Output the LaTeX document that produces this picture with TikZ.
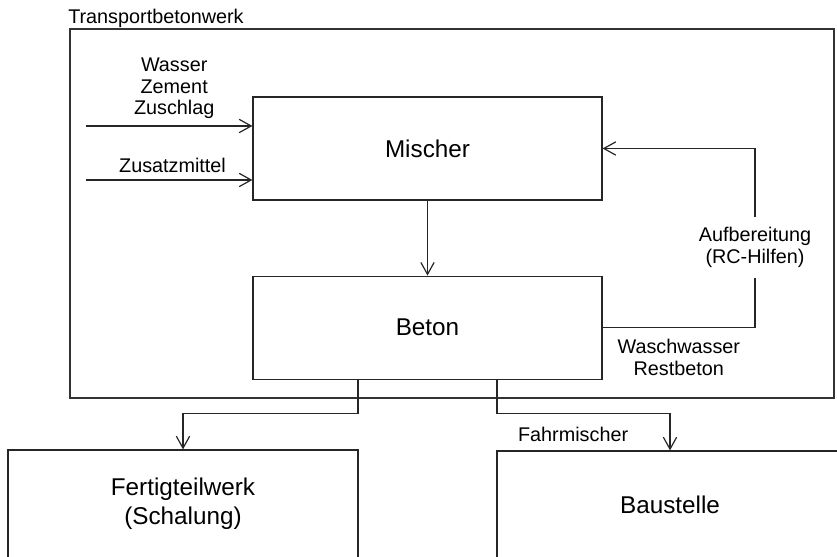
\documentclass[tikz,border=0pt]{standalone}
\usepackage{fontspec}
\setmainfont{Liberation Sans}
\usetikzlibrary{arrows.meta, positioning}
\tikzset{
  box/.style={rectangle, draw=black!85, line width=0.9pt, minimum width=261.75pt, minimum height=77.25pt, align=center, inner sep=0pt, font=\fontsize{18.2}{21.75}\selectfont},
  frame/.style={rectangle, draw=black!80, line width=2.2pt, minimum width=573pt, minimum height=276.75pt},
  lbl/.style={align=center, inner sep=0pt, font=\fontsize{14.85}{16.1}\selectfont},
  arrow/.style={-{Straight Barb[length=9pt, width=10pt]}, draw=black!85, line width=0.9pt},
  conn/.style={draw=black!85, line width=0.9pt}
}
\begin{document}
\begin{tikzpicture}[x=0.75pt, y=0.75pt]
  \useasboundingbox (0,0) rectangle (837,556);
  \node[frame] (werk) at (452,342.5) {};
  \node[lbl, anchor=base west] (werklbl) at (68,532) {Transportbetonwerk};
  \node[box] (mischer) at (427.5,407.5) {Mischer};
  \node[box, below=56.25pt of mischer] (beton) {Beton};
  \node[box, minimum width=262.5pt, minimum height=81pt] (fertig) at (183,52) {Fertigteilwerk\\(Schalung)};
  \node[box, minimum width=259.5pt, minimum height=81pt] (baustelle) at (670,51) {Baustelle};
  \coordinate (wzz) at (86,430);
  \coordinate (zus) at (86,376);
  \node[lbl, inner sep=7.5pt] (aufb) at (755,308.5) {Aufbereitung\\(RC-Hilfen)};
  \draw[arrow] (wzz) -- node[lbl, above=5pt, pos=0.53] {Wasser\\Zement\\Zuschlag} (wzz -| mischer.west);
  \draw[arrow] (zus) -- node[lbl, above=5pt, pos=0.52] {Zusatzmittel} (zus -| mischer.west);
  \draw[arrow] (mischer) -- (beton);
  \draw[conn] (beton.east) -| node[lbl, below=8.5pt, pos=0.25] {Waschwasser\\Restbeton} (aufb);
  \draw[arrow] (aufb) |- (mischer.east);
  \draw[arrow] ([xshift=-52.1pt]beton.south) -- ++(0,-34) -| (fertig.north);
  \draw[arrow] ([xshift=52.1pt]beton.south) -- ++(0,-34) -| node[lbl, below=9.5pt, pos=0.22] {Fahrmischer} (baustelle.north);
\end{tikzpicture}
\end{document}
